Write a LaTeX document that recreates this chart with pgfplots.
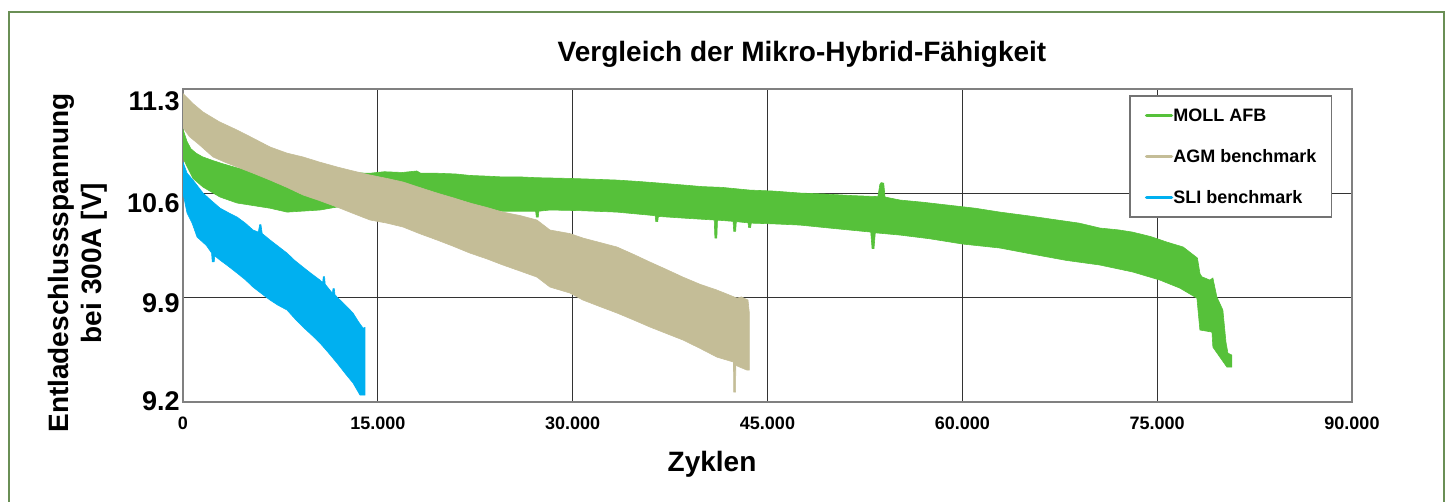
\documentclass[border=0pt]{standalone}
\usepackage{fontspec}
\setmainfont{Liberation Sans}
\usepackage{pgfplots}
\pgfplotsset{compat=1.18}

\definecolor{moll}{HTML}{56C13A}
\definecolor{agm}{HTML}{C4BD97}
\definecolor{sli}{HTML}{00B0F0}
\definecolor{rahmen}{HTML}{6A8F55}

\begin{document}
\begin{tikzpicture}
\path[use as bounding box] (0,0) rectangle (725pt,251pt);
\draw[rahmen, line width=1.1pt] (4.5pt,-5pt) -- (4.5pt,245pt) -- (722pt,245pt) -- (722pt,-5pt);

\begin{axis}[
    at={(91.5pt,50pt)}, anchor=south west,
    scale only axis,
    width=584.5pt, height=156.5pt,
    xmin=0, xmax=90000,
    ymin=9.2, ymax=11.3,
    scaled x ticks=false,
    xtick={0,15000,30000,45000,60000,75000,90000},
    xticklabels={0,15.000,30.000,45.000,60.000,75.000,90.000},
    ytick={9.2,9.9,10.6,11.3},
    yticklabels={\raisebox{3.5pt}[9.7pt][0pt]{9.2},9.9,\raisebox{-1.5pt}[9.7pt][0pt]{10.6},\raisebox{-3pt}[9.7pt][0pt]{11.3}},
    /pgf/number format/assume math mode=true,
    xmajorgrids, ymajorgrids,
    grid style={black!80, line width=0.5pt},
    tick style={draw=none},
    axis line style={black!50, line width=0.8pt},
    xticklabel style={font=\bfseries\fontsize{9}{10}\selectfont, inner sep=0pt, yshift=-7.5pt},
    yticklabel style={font=\bfseries\fontsize{13.5}{15}\selectfont, inner sep=0pt, xshift=-1.5pt, yshift=-3pt},
    legend style={at={(0.983,0.981)}, anchor=north east,
        draw=black!55, line width=0.8pt, fill=white,
        font=\bfseries\fontsize{9}{10}\selectfont,
        inner xsep=7.5pt, inner ysep=6.5pt, row sep=14pt,
        nodes={inner sep=0pt, text height=6.5pt, text depth=0pt},
        /tikz/every even column/.append style={column sep=0pt}},
    legend cell align=left,
    legend image code/.code={\draw[#1, line width=1.7pt, line cap=round] (0pt,0pt) -- (12.5pt,0pt);},
]

% MOLL AFB: obere Huellkurve, dann untere rueckwaerts
\addplot[draw=moll, fill=moll, line width=0.3pt] coordinates {
(0,11.03) (300,10.95) (600,10.90) (1000,10.87) (1500,10.845) (2300,10.82) (3000,10.80)
(4200,10.77) (6000,10.75) (8000,10.74) (10000,10.735) (12000,10.74) (14400,10.735)
(15500,10.745) (16900,10.74) (18000,10.75) (18300,10.735) (19500,10.735) (21000,10.73)
(22100,10.72) (23500,10.715) (24600,10.71) (26000,10.71) (27200,10.705) (28250,10.703)
(29800,10.70) (31500,10.695) (33400,10.689) (35000,10.68) (36500,10.67) (38500,10.656)
(40000,10.645) (41500,10.64) (43600,10.622) (45500,10.615) (47500,10.602) (49500,10.595)
(51500,10.585) (53500,10.578) (53650,10.66) (53750,10.672) (53950,10.668) (54050,10.575)
(55200,10.555) (57000,10.54) (59000,10.52) (61000,10.50) (62900,10.474) (65000,10.45)
(67000,10.425) (69000,10.40) (70600,10.367) (72000,10.355) (73100,10.34) (74500,10.31)
(75750,10.273) (77000,10.24) (78100,10.166) (78300,10.06) (78450,10.04) (79060,10.018)
(79290,10.032) (79600,9.904) (80060,9.817) (80300,9.60) (80450,9.528) (80750,9.515)
(80750,9.434) (80370,9.434) (79290,9.568) (79220,9.669) (78290,9.683) (78060,9.897)
(76750,9.964) (75210,10.018) (73130,10.072) (70590,10.119) (68000,10.15) (65500,10.19)
(62890,10.233) (60000,10.26) (57500,10.295) (55200,10.32) (53300,10.335) (53200,10.23)
(53050,10.23) (52950,10.34) (50000,10.365) (47500,10.387) (45500,10.395) (43750,10.40)
(43700,10.37) (43550,10.37) (43500,10.402) (42600,10.41) (42550,10.345) (42400,10.345)
(42350,10.412) (41150,10.42) (41100,10.30) (40950,10.30) (40900,10.421) (38490,10.434)
(36600,10.445) (36550,10.41) (36400,10.41) (36350,10.45) (33410,10.474) (30500,10.484)
(28250,10.488) (27400,10.48) (27350,10.44) (27200,10.44) (27150,10.48) (24630,10.48)
(20000,10.49) (15000,10.50) (11860,10.508) (10550,10.488) (8010,10.474) (6700,10.50)
(4160,10.535) (2850,10.575) (1540,10.642) (770,10.70) (310,10.78) (0,10.837) (0,11.03)
};
\addlegendentry{MOLL AFB}

% AGM benchmark
\addplot[draw=agm, fill=agm, line width=0.3pt] coordinates {
(0,11.27) (800,11.20) (1540,11.146) (2800,11.08) (4160,11.025) (5400,10.97) (6700,10.911)
(8000,10.87) (9240,10.844) (10500,10.81) (11860,10.777) (13100,10.75) (14400,10.723)
(15700,10.70) (16940,10.676) (18200,10.64) (19550,10.602) (20800,10.57) (22090,10.535)
(23400,10.505) (24630,10.474) (26000,10.45) (27250,10.421) (28250,10.354) (29790,10.33)
(30790,10.30) (32100,10.27) (33410,10.24) (34700,10.19) (35950,10.139) (37200,10.09)
(38490,10.038) (39800,9.99) (41110,9.951) (42000,9.92) (42650,9.897) (43000,9.905)
(43500,9.884) (43600,9.80) (43600,9.414) (43420,9.414) (42700,9.44) (42560,9.45)
(42540,9.266) (42400,9.266) (42380,9.468) (41110,9.501) (39800,9.56) (38490,9.616)
(37200,9.66) (35950,9.703) (34700,9.75) (33410,9.797) (32100,9.84) (30790,9.884)
(29790,9.931) (28250,9.971) (27250,10.038) (25900,10.08) (24630,10.119) (23400,10.16)
(22090,10.199) (20800,10.245) (19550,10.287) (18200,10.33) (16940,10.374) (15700,10.40)
(14400,10.421) (13100,10.465) (11860,10.508) (10550,10.55) (9240,10.589) (8000,10.64)
(6700,10.689) (5400,10.735) (4160,10.777) (3200,10.81) (2310,10.844) (1200,10.93)
(500,10.98) (0,11.04) (0,11.27)
};
\addlegendentry{AGM benchmark}

% SLI benchmark
\addplot[draw=sli, fill=sli, line width=0.3pt] coordinates {
(0,10.81) (310,10.736) (770,10.689) (1540,10.602) (2200,10.55) (2850,10.501) (3500,10.47)
(4160,10.441) (4800,10.40) (5390,10.354) (5800,10.34) (5900,10.39) (6000,10.39) (6100,10.33)
(6700,10.287) (7400,10.24) (8010,10.199) (8600,10.15) (9240,10.105) (9900,10.06)
(10550,10.018) (10750,10.00) (10800,10.04) (10900,10.04) (10950,9.99) (11500,9.93)
(11550,9.96) (11650,9.96) (11700,9.92) (11860,9.904) (12500,9.85) (13090,9.797)
(13500,9.74) (13860,9.696) (14010,9.70) (14010,9.246) (13630,9.246) (13090,9.327)
(12500,9.39) (11860,9.461) (11200,9.53) (10550,9.595) (9900,9.65) (9240,9.703)
(8600,9.76) (8010,9.817) (7300,9.85) (6700,9.884) (6000,9.93) (5390,9.971) (4800,10.02)
(4160,10.065) (3500,10.11) (2850,10.152) (2450,10.18) (2400,10.14) (2250,10.14)
(2200,10.20) (1800,10.25) (1080,10.307) (700,10.40) (310,10.468) (0,10.60) (0,10.81)
};
\addlegendentry{SLI benchmark}
\end{axis}

\node[anchor=base, font=\bfseries\fontsize{14}{16}\selectfont] at (401pt,220pt) {Vergleich der Mikro-Hybrid-Fähigkeit};
\node[rotate=90, align=center, font=\bfseries\fontsize{14}{16.5}\selectfont] at (39pt,119.5pt) {Entladeschlussspannung\\bei 300A [V]};
\node[anchor=base, font=\bfseries\fontsize{14}{16}\selectfont] at (356pt,15pt) {Zyklen};
\end{tikzpicture}
\end{document}
